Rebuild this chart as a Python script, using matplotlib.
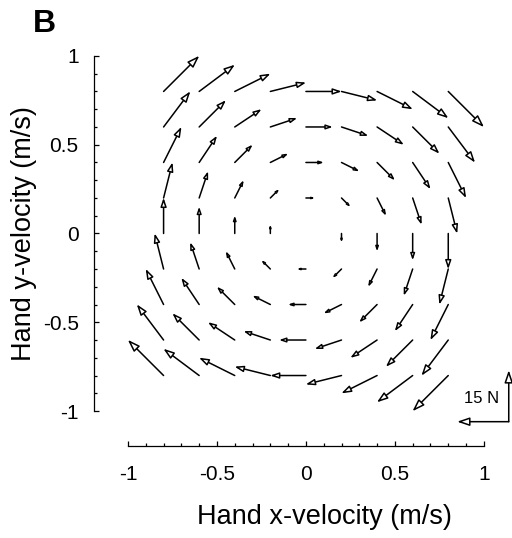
import matplotlib
matplotlib.use("Agg")
import matplotlib.pyplot as plt
from matplotlib.ticker import MultipleLocator

plt.rcParams['font.family'] = ['Liberation Sans', 'DejaVu Sans']

# hand velocity grid (m/s), same values on both axes
velocities = [-0.8, -0.6, -0.4, -0.2, 0.0, 0.2, 0.4, 0.6, 0.8]
# x-force (N) for each row (indexed by y-velocity), y-force (N) for each column (by x-velocity)
force_x_by_row = [-10.4, -7.8, -5.2, -2.6, 0.0, 2.6, 5.2, 7.8, 10.4]
force_y_by_col = [10.4, 7.8, 5.2, 2.6, 0.0, -2.6, -5.2, -7.8, -10.4]

scale_force = 15  # N, scale bar
data_per_newton = 0.29 / 15  # arrow length in axis units per newton

fig = plt.figure(figsize=(5.12, 5.38), dpi=100)
ax = fig.add_axes([0.25, 0.236, 0.695, 0.66])


def draw_arrow(x0, y0, fx, fy):
    dx = fx * data_per_newton
    dy = fy * data_per_newton
    length = (dx ** 2 + dy ** 2) ** 0.5
    if length < 1e-6:
        return
    ms = 51 * length
    ax.annotate('', xy=(x0 + dx, y0 + dy), xytext=(x0, y0),
                arrowprops=dict(arrowstyle='-|>,head_length=0.5,head_width=0.17',
                                fc='white', ec='black', lw=1.1,
                                mutation_scale=ms, shrinkA=0, shrinkB=0),
                annotation_clip=False)


for i, vy in enumerate(velocities):
    for j, vx in enumerate(velocities):
        draw_arrow(vx, vy, force_x_by_row[i], force_y_by_col[j])

# scale bar (15 N) in the lower right corner
corner = (1.14, -1.06)
draw_arrow(corner[0], corner[1], -scale_force, 0)
draw_arrow(corner[0], corner[1], 0, scale_force)
ax.text(0.985, -0.93, '15 N', fontsize=12, ha='center', va='center')

ax.set_xlim(-1, 1)
ax.set_ylim(-1, 1)
for side in ['top', 'right']:
    ax.spines[side].set_visible(False)
ax.spines['left'].set_position(('outward', 24.5))
ax.spines['bottom'].set_position(('outward', 25))
for side in ['left', 'bottom']:
    ax.spines[side].set_linewidth(0.9)

ax.set_xticks([-1, -0.5, 0, 0.5, 1])
ax.set_yticks([-1, -0.5, 0, 0.5, 1])
ax.set_xticklabels(['-1', '-0.5', '0', '0.5', '1'])
ax.set_yticklabels(['-1', '-0.5', '0', '0.5', '1'])
ax.xaxis.set_minor_locator(MultipleLocator(0.1))
ax.yaxis.set_minor_locator(MultipleLocator(0.1))
ax.tick_params(which='major', direction='in', length=3.5, width=0.9,
               labelsize=15, pad=11)
ax.tick_params(axis='x', which='major', pad=14)
ax.tick_params(which='minor', direction='in', length=2.5, width=0.9)

ax.set_xlabel('Hand x-velocity (m/s)', fontsize=19.5)
ax.xaxis.set_label_coords(0.553, -0.262)
ax.set_ylabel('Hand y-velocity (m/s)', fontsize=19.5, labelpad=4)

fig.text(0.064, 0.956, 'B', fontsize=23, fontweight='bold', ha='left', va='center')

fig.savefig('out.png', dpi=100)
